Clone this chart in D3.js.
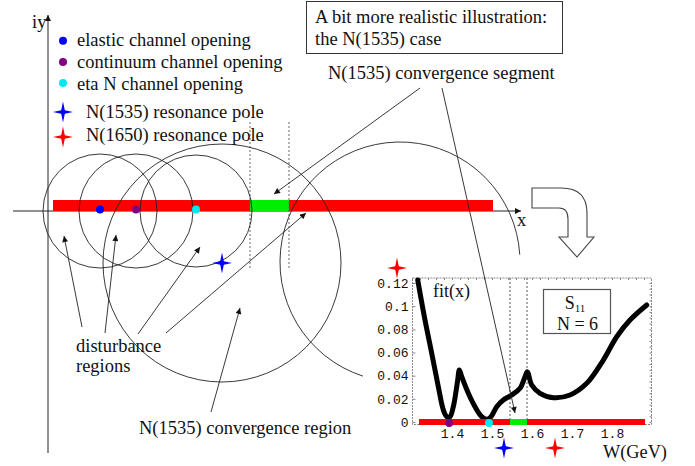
<!DOCTYPE html>
<html><head><meta charset="utf-8">
<script src="https://cdn.jsdelivr.net/npm/d3@7"></script>
<style>
body{margin:0;background:#fff}
svg{display:block}
text{font-family:"Liberation Serif","Times New Roman",serif;fill:#111}
</style>
</head><body>
<svg id="c" width="695" height="466"></svg>
<script>
// ---------------- DATA ----------------
// Legend
const channelNames = ["elastic channel opening", "continuum channel opening", "eta N channel opening"];
const channelColors = ["#0000ff", "#800080", "#00e8f0"];
const poleNames = ["N(1535) resonance pole", "N(1650) resonance pole"];
const poleColors = ["#0000ff", "#ff0000"];

// Schematic complex plane (arbitrary units: Re along x, Im along y)
const channelRe = [52, 88, 148];          // channel openings on real axis
const disturbanceRadius = [57, 57, 56];   // disturbance circles around openings
const pole1535 = [174, -52];              // N(1535) pole (Re, Im)
const convergenceRadius = 119;
const pole1650Circle = [352, -51];        // second (partially shown) circle
const pole1650Radius = 120;
const redSegment = [5, 445];
const greenSegment = [202, 241];
const dottedTop = 89, dottedBottom = -57;

// Inset: fit(x) vs W (GeV)
const fitW =   [1.3143,1.3325,1.3493,1.3658,1.3783,1.3868,1.395,1.4033,1.4093,1.4143,1.4183,1.4243,1.4408,1.4575,1.4743,1.4868,1.4975,1.5118,1.5283,1.5493,1.57,1.5825,1.5883,1.5993,1.62,1.6533,1.695,1.7368,1.7783,1.8118,1.845,1.8868];
const fitVal = [0.1226,0.088,0.0593,0.0305,0.0104,0.0046,0.0046,0.0132,0.0248,0.0363,0.0449,0.0391,0.0248,0.0132,0.0046,0.0023,0.0046,0.0132,0.019,0.0233,0.0291,0.0391,0.0434,0.0319,0.0248,0.021,0.0233,0.0334,0.0535,0.0736,0.088,0.101];
const insetYTicks = [0, 0.02, 0.04, 0.06, 0.08, 0.1, 0.12];
const insetYLabels = ["0", "0.02", "0.04", "0.06", "0.08", "0.1", "0.12"];
const insetXTicks = [1.4, 1.5, 1.6, 1.7, 1.8];
const insetRed = [1.3175, 1.8825];
const insetGreen = [1.545, 1.5875];
const insetChannelW = [1.393, 1.4925];    // continuum, eta N openings
const insetChannelColors = ["#800080", "#00e8f0"];
const insetStars = [[1.2625, 0.133, "#ff0000"], [1.53, -0.0224, "#0000ff"], [1.6575, -0.0224, "#ff0000"]];

// ---------------- DRAW ----------------
const svg = d3.select("#c");
const defs = svg.append("defs");
defs.append("marker").attr("id", "ah").attr("viewBox", "0 0 10 10")
  .attr("refX", 10).attr("refY", 5).attr("markerWidth", 7).attr("markerHeight", 6)
  .attr("markerUnits", "userSpaceOnUse").attr("orient", "auto")
  .append("path").attr("d", "M0,0 L10,5 L0,10 Z").attr("fill", "#111");

const mx = d3.scaleLinear().domain([0, 473]).range([48, 521]);
const my = d3.scaleLinear().domain([-242, 196]).range([453, 15]);
const mr = r => mx(r) - mx(0);

function star(g, cx, cy, color, rx = 10, ry = 10.5, w = 1.8) {
  const d = `M${cx},${cy-ry} L${cx+w},${cy-w} L${cx+rx},${cy} L${cx+w},${cy+w} L${cx},${cy+ry} L${cx-w},${cy+w} L${cx-rx},${cy} L${cx-w},${cy-w} Z`;
  g.append("path").attr("d", d).attr("fill", color);
}

const main = svg.append("g");

// axes
main.append("line").attr("x1", mx(-35)).attr("x2", mx(473)).attr("y1", my(0)).attr("y2", my(0))
  .attr("stroke", "#222").attr("stroke-width", 1).attr("marker-end", "url(#ah)");
main.append("line").attr("x1", mx(0)).attr("x2", mx(0)).attr("y1", my(-242)).attr("y2", my(196))
  .attr("stroke", "#222").attr("stroke-width", 1).attr("marker-end", "url(#ah)");
main.append("text").attr("x", 32).attr("y", 28).attr("font-size", 18.5).text("iy");
main.append("text").attr("x", 517).attr("y", 226).attr("font-size", 18.5).text("x");

// red / green segment
main.append("rect").attr("x", mx(redSegment[0])).attr("y", my(11))
  .attr("width", mx(redSegment[1]) - mx(redSegment[0])).attr("height", my(0) - my(11)).attr("fill", "#ff0000");
main.append("rect").attr("x", mx(greenSegment[0])).attr("y", my(11))
  .attr("width", mx(greenSegment[1]) - mx(greenSegment[0])).attr("height", my(0) - my(11)).attr("fill", "#00ee00");

// dotted verticals
greenSegment.forEach(v => main.append("line").attr("x1", mx(v)).attr("x2", mx(v))
  .attr("y1", my(dottedTop)).attr("y2", my(dottedBottom))
  .attr("stroke", "#666").attr("stroke-width", 1).attr("stroke-dasharray", "2,2"));

// circles
channelRe.forEach((c, i) => main.append("circle").attr("cx", mx(c)).attr("cy", my(0)).attr("r", mr(disturbanceRadius[i]))
  .attr("fill", "none").attr("stroke", "#222").attr("stroke-width", 0.9));
main.append("circle").attr("cx", mx(pole1535[0])).attr("cy", my(pole1535[1])).attr("r", mr(convergenceRadius))
  .attr("fill", "none").attr("stroke", "#222").attr("stroke-width", 0.9);
{
  const p = d3.path();
  const a0 = 108 * Math.PI / 180, a1 = 356.5 * Math.PI / 180;
  const cx = mx(pole1650Circle[0]), cy = my(pole1650Circle[1]), r = mr(pole1650Radius);
  p.moveTo(cx + r * Math.cos(a0), cy + r * Math.sin(a0));
  p.arc(cx, cy, r, a0, a1, false);
  main.append("path").attr("d", p.toString()).attr("fill", "none").attr("stroke", "#222").attr("stroke-width", 0.9);
}

// channel dots on axis
channelRe.forEach((c, i) => main.append("circle").attr("cx", mx(c)).attr("cy", my(1.5)).attr("r", 4).attr("fill", channelColors[i]));
star(main, mx(pole1535[0]), my(pole1535[1]), poleColors[0]);

// legend
channelNames.forEach((n, i) => {
  main.append("circle").attr("cx", 63).attr("cy", 40.7 + i * 21.2).attr("r", 4).attr("fill", channelColors[i]);
  main.append("text").attr("x", 77).attr("y", 46 + i * 22).attr("font-size", 18.5).text(n);
});
poleNames.forEach((n, i) => {
  star(main, 63, 112 + i * 25, poleColors[i]);
  main.append("text").attr("x", 86).attr("y", 118 + i * 23).attr("font-size", 18.5).text(n);
});

// annotation box
main.append("rect").attr("x", 306.5).attr("y", 1.5).attr("width", 256).attr("height", 52)
  .attr("fill", "none").attr("stroke", "#333").attr("stroke-width", 1);
main.append("text").attr("x", 315).attr("y", 23).attr("font-size", 18.5).text("A bit more realistic illustration:");
main.append("text").attr("x", 315).attr("y", 45).attr("font-size", 18.5).text("the N(1535) case");
main.append("text").attr("x", 328).attr("y", 79).attr("font-size", 18.5).text("N(1535) convergence segment");
main.append("text").attr("x", 76).attr("y", 352).attr("font-size", 18.5).text("disturbance");
main.append("text").attr("x", 76).attr("y", 372).attr("font-size", 18.5).text("regions");
main.append("text").attr("x", 139).attr("y", 434).attr("font-size", 18.5).text("N(1535) convergence region");

// hollow curved arrow
main.append("path")
  .attr("d", "M532,188 L561,188 Q587,188 587,213 L587,237 L594,237 L577,257 L559,237 L568,237 L568,219 Q568,208 559,208 L532,208 Z")
  .attr("fill", "#fff").attr("stroke", "#444").attr("stroke-width", 1.1);

// ---------------- INSET ----------------
const ix = d3.scaleLinear().domain([1.3, 1.9]).range([412, 652]);
const iy = d3.scaleLinear().domain([0, 0.12]).range([422, 283]);
const inset = svg.append("g");
const fx0 = 412.5, fx1 = 651.5, fy0 = 278, fy1 = 424.5;
inset.append("rect").attr("x", fx0).attr("y", fy0).attr("width", fx1 - fx0).attr("height", fy1 - fy0)
  .attr("fill", "none").attr("stroke", "#888").attr("stroke-width", 1).attr("stroke-dasharray", "2,1");

const styleAxis = g => { g.select(".domain").remove(); g.selectAll("line").attr("stroke", "#888");
  g.selectAll("text").attr("fill", "#555").style("font-family", "'Liberation Mono','Courier New',monospace").attr("font-size", 13); };
inset.append("g").attr("transform", `translate(${fx0},0)`)
  .call(d3.axisLeft(iy).tickValues(insetYTicks).tickFormat((d, i) => insetYLabels[i]).tickSize(-3).tickPadding(4)).call(styleAxis);
inset.append("g").attr("transform", `translate(0,${fy1})`)
  .call(d3.axisBottom(ix).tickValues(insetXTicks).tickFormat(d3.format(".1f")).tickSize(-3).tickPadding(4)).call(styleAxis);
inset.append("g").attr("transform", `translate(${fx1},0)`)
  .call(d3.axisRight(iy).tickValues(d3.range(0, 0.1245, 0.005)).tickFormat("").tickSize(-2)).call(styleAxis);
inset.append("g").attr("transform", `translate(0,${fy0})`)
  .call(d3.axisTop(ix).tickValues(d3.range(1.3, 1.9, 0.02)).tickFormat("").tickSize(-2)).call(styleAxis);

// dotted verticals
insetGreen.forEach(v => inset.append("line").attr("x1", ix(v)).attr("x2", ix(v)).attr("y1", fy0).attr("y2", fy1)
  .attr("stroke", "#555").attr("stroke-width", 1).attr("stroke-dasharray", "2,2"));

// fit curve
inset.append("path").datum(fitW.map((w, i) => [w, fitVal[i]]))
  .attr("d", d3.line().x(d => ix(d[0])).y(d => iy(d[1])).curve(d3.curveCatmullRom.alpha(0.5)))
  .attr("fill", "none").attr("stroke", "#000").attr("stroke-width", 5).attr("stroke-linecap", "round").attr("stroke-linejoin", "round");

// red / green bar
inset.append("rect").attr("x", ix(insetRed[0])).attr("y", iy(0) - 3).attr("width", ix(insetRed[1]) - ix(insetRed[0])).attr("height", 6).attr("fill", "#ff0000");
inset.append("rect").attr("x", ix(insetGreen[0])).attr("y", iy(0) - 3).attr("width", ix(insetGreen[1]) - ix(insetGreen[0])).attr("height", 6).attr("fill", "#00ee00");
insetChannelW.forEach((w, i) => inset.append("circle").attr("cx", ix(w)).attr("cy", iy(0) + 1).attr("r", 4).attr("fill", insetChannelColors[i]));
insetStars.forEach(s => star(inset, ix(s[0]), iy(s[1]), s[2]));

// inset labels
inset.append("text").attr("x", 433).attr("y", 297).attr("font-size", 18).text("fit(x)");
inset.append("text").attr("x", 603).attr("y", 458).attr("font-size", 18.3).text("W(GeV)");
inset.append("rect").attr("x", 543.5).attr("y", 289.5).attr("width", 67).attr("height", 44)
  .attr("fill", "#fff").attr("stroke", "#555").attr("stroke-width", 1.2);
const st = inset.append("text").attr("x", 575).attr("y", 309).attr("text-anchor", "middle").attr("font-size", 18);
st.append("tspan").text("S");
st.append("tspan").attr("font-size", 11).attr("dy", 3).text("11");
inset.append("text").attr("x", 577.5).attr("y", 330).attr("text-anchor", "middle").attr("font-size", 18).text("N = 6");

// annotation arrows (drawn last, over everything)
const arrowsMain = [
  [[372, 123], [226, 17]],
  [[34, -116], [16, -25]],
  [[57, -122], [68, -24]],
  [[90, -123], [152, -36]],
  [[118, -122], [258, -2]],
  [[163, -201], [192, -97]]
];
arrowsMain.forEach(a => svg.append("line").attr("x1", mx(a[0][0])).attr("y1", my(a[0][1]))
  .attr("x2", mx(a[1][0])).attr("y2", my(a[1][1])).attr("stroke", "#222").attr("stroke-width", 0.9).attr("marker-end", "url(#ah)"));
// arrow from label into inset green segment
svg.append("line").attr("x1", mx(394)).attr("y1", my(123)).attr("x2", ix(1.5575)).attr("y2", iy(0.0078))
  .attr("stroke", "#222").attr("stroke-width", 0.9).attr("marker-end", "url(#ah)");
</script>
</body></html>
